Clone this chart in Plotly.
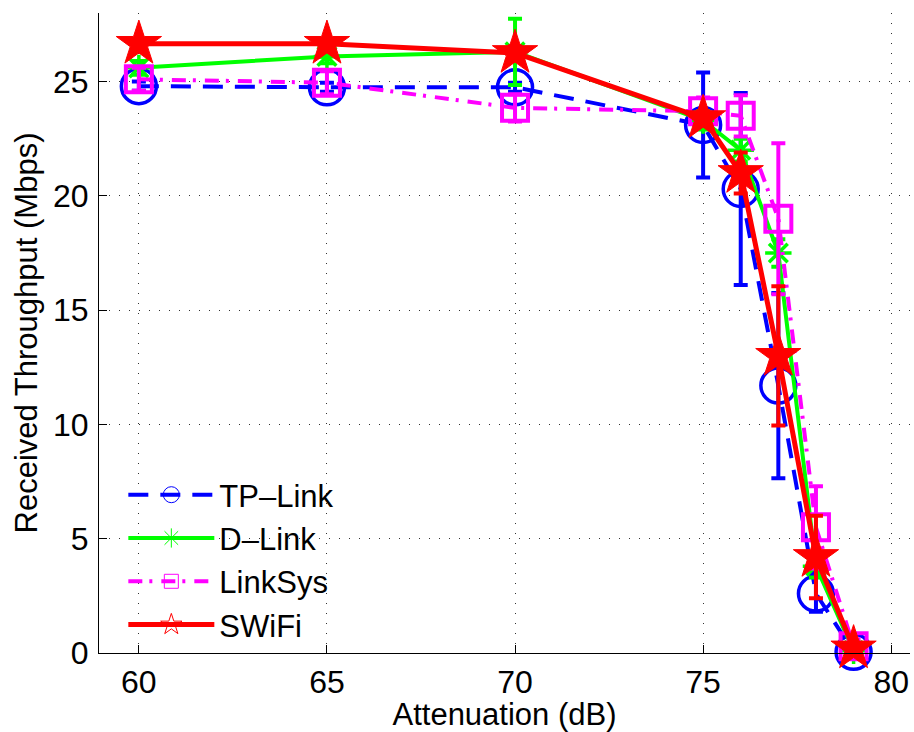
import plotly.graph_objects as go

# ---- data ----
attenuation = [60, 65, 70, 75, 76, 77, 78, 79]

tplink = [24.8, 24.75, 24.75, 23.1, 20.3, 11.7, 2.6, 0.05]
tplink_err = [0.2, 0.2, 0.2, 2.3, 4.2, 4.05, 0.8, 0.1]

dlink = [25.6, 26.1, 26.3, 23.3, 22.0, 17.5, 3.8, 0.1]
dlink_err = [0.3, 0.3, 1.45, 0.4, 0.5, 0.6, 0.5, 0.1]

linksys = [25.1, 24.95, 23.85, 23.7, 23.5, 19.0, 5.5, 0.3]
linksys_err = [0.5, 0.5, 0.6, 0.6, 0.9, 3.3, 1.8, 0.3]

swifi = [26.65, 26.65, 26.25, 23.4, 21.0, 13.0, 4.2, 0.2]
swifi_err = [0.2, 0.2, 0.3, 0.3, 0.9, 3.05, 1.8, 0.2]

names = ["TP–Link", "D–Link", "LinkSys", "SWiFi"]
x_ticks = [60, 65, 70, 75, 80]
y_ticks = [0, 5, 10, 15, 20, 25]

FONT = "Liberation Sans, Arial, Helvetica, sans-serif"

series = [
    dict(y=tplink, e=tplink_err, name=names[0], color="#0000ff",
         dash="20px,12px", lw=4, sym="circle-open", size=35, mlw=3.5,
         lsym="circle-open", lsize=16),
    dict(y=dlink, e=dlink_err, name=names[1], color="#00ff00",
         dash="solid", lw=4, sym="asterisk-open", size=22, mlw=3.5,
         lsym="asterisk-open", lsize=16),
    dict(y=linksys, e=linksys_err, name=names[2], color="#ff00ff",
         dash="14px,7px,3px,9px", lw=4, sym="square-open", size=26, mlw=4,
         lsym="square-open", lsize=14),
    dict(y=swifi, e=swifi_err, name=names[3], color="#ff0000",
         dash="solid", lw=5, sym="star", size=34, mlw=1,
         lsym="star-open", lsize=16),
]

fig = go.Figure()
for s in series:
    fig.add_trace(go.Scatter(
        x=attenuation, y=s["y"], mode="lines+markers", showlegend=False,
        line=dict(color=s["color"], width=s["lw"], dash=s["dash"]),
        marker=dict(symbol=s["sym"], size=s["size"], color=s["color"],
                    line=dict(color=s["color"], width=s["mlw"])),
        error_y=dict(type="data", array=s["e"], visible=True,
                     color=s["color"], thickness=4, width=7),
        cliponaxis=False,
    ))
# legend entries (thin markers as in the reference legend)
for s in series:
    fig.add_trace(go.Scatter(
        x=[None], y=[None], mode="lines+markers", name=s["name"],
        line=dict(color=s["color"], width=s["lw"], dash=s["dash"]),
        marker=dict(symbol=s["lsym"], size=s["lsize"], color=s["color"],
                    line=dict(color=s["color"], width=1)),
    ))

axis_common = dict(
    showline=True, linecolor="black", linewidth=1.2,
    ticks="inside", ticklen=8, tickwidth=1, tickcolor="black",
    showgrid=True, gridcolor="#333333", gridwidth=1, griddash="1px,9px",
    zeroline=False, mirror=False,
    tickfont=dict(family=FONT, size=32, color="black"),
)

fig.update_layout(
    width=914, height=732,
    margin=dict(l=99, r=4, t=13, b=79),
    paper_bgcolor="white", plot_bgcolor="white",
    font=dict(family=FONT, color="black"),
    xaxis=dict(range=[58.94, 80.5], tickvals=x_ticks,
               title=dict(text="Attenuation (dB)", standoff=1,
                          font=dict(family=FONT, size=31)),
               **axis_common),
    yaxis=dict(range=[0, 28], tickvals=y_ticks,
               title=dict(text="Received Throughput (Mbps)", standoff=6,
                          font=dict(family=FONT, size=31)),
               ticklabelstandoff=3,
               **axis_common),
    legend=dict(x=0.03, y=0.289, xanchor="left", yanchor="top",
                bgcolor="rgba(0,0,0,0)", borderwidth=0,
                font=dict(family=FONT, size=31, color="black"),
                itemwidth=86),
)

fig.write_html("out.html")
